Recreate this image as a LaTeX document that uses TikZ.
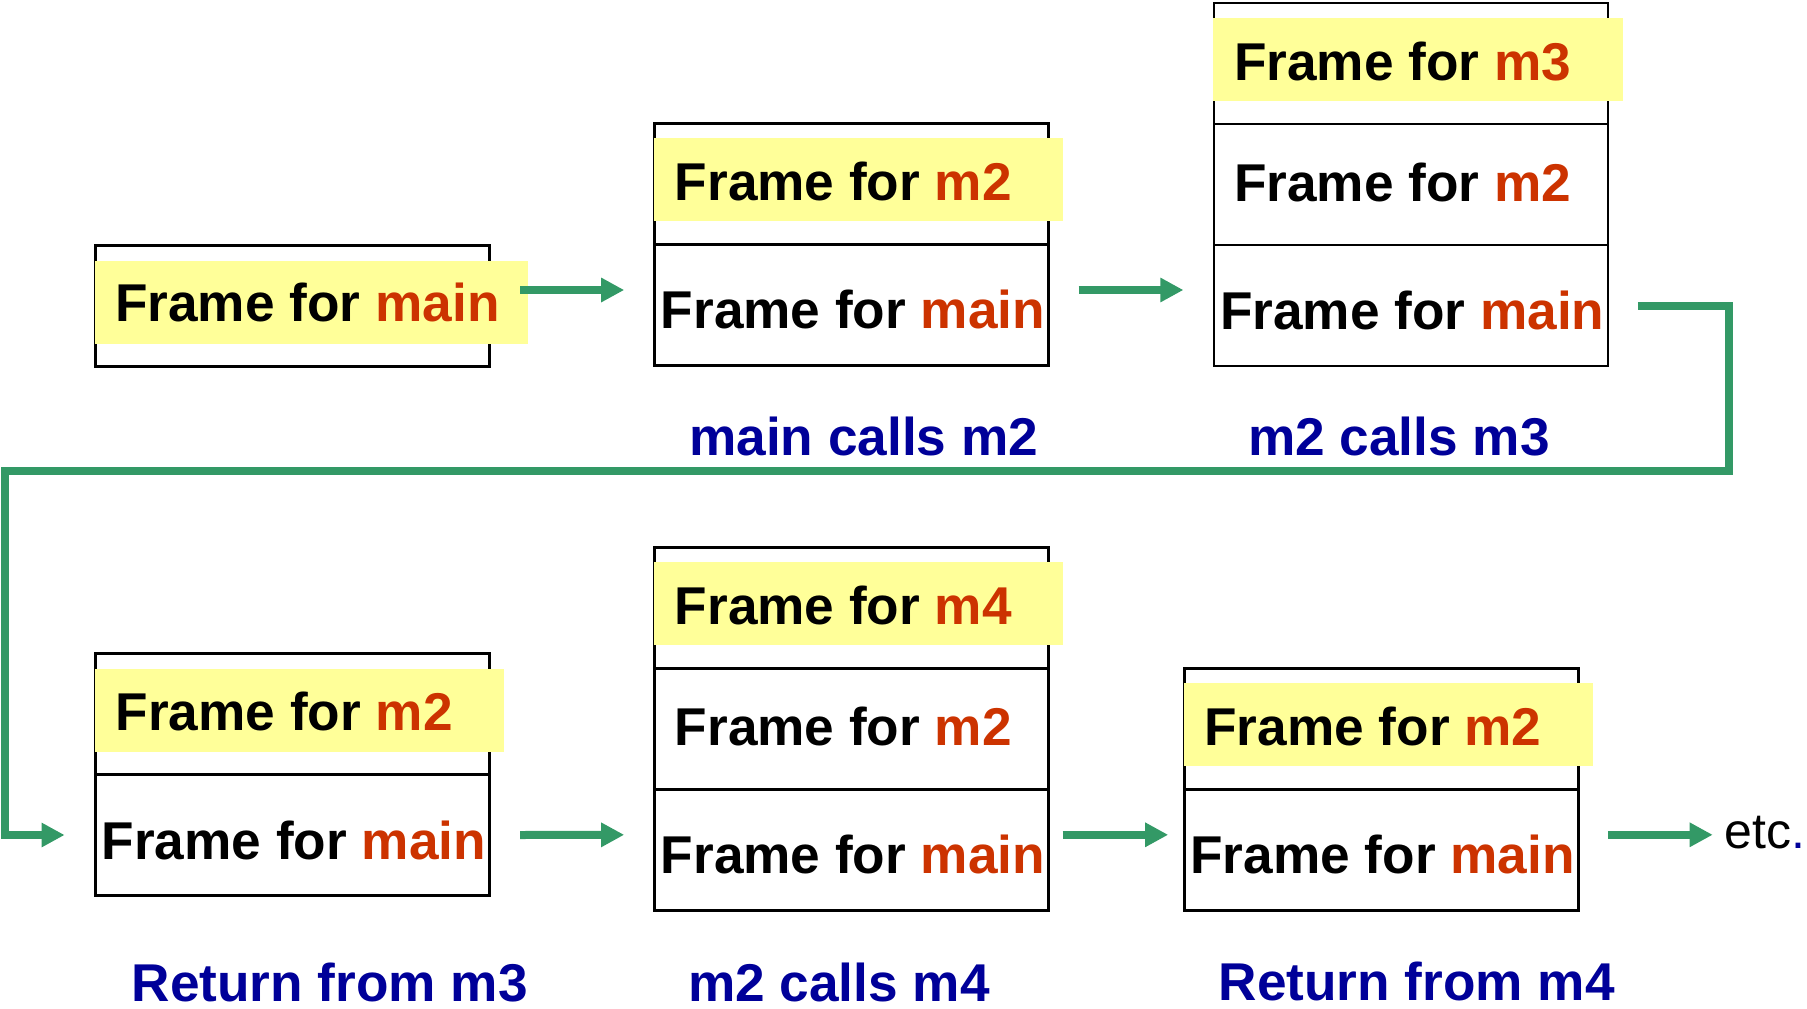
\documentclass[tikz,border=0pt]{standalone}
\usepackage{fontspec}
\setmainfont{Liberation Sans}
\usetikzlibrary{arrows.meta}
\definecolor{hilite}{HTML}{FFFF99}
\definecolor{fname}{HTML}{CC3300}
\definecolor{caption}{HTML}{000099}
\definecolor{flow}{HTML}{339966}
\begin{document}
\begin{tikzpicture}[x=1pt,y=-1pt,
  cell/.style={draw=black, line width=2.6pt, minimum width=394pt, minimum height=121pt, inner sep=0pt, outer sep=0pt, anchor=north west},
  hl/.style={fill=hilite, inner sep=0pt, outer sep=0pt, anchor=north west, minimum height=83pt},
  ftext/.style={font=\fontsize{53.2}{60}\selectfont\bfseries, inner sep=0pt, anchor=base west},
  steplabel/.style={ftext, text=caption},
  arr/.style={draw=flow, line width=8pt, -{Triangle[length=23pt,width=23pt]}},
]
\useasboundingbox (0,0) rectangle (1807,1009);

% ---- stack cells ----
\node[cell] (a1) at (95.6,245.5) {};
\node[cell] (b1) at (654.7,123.3) {};
\node[cell] (b2) at (654.7,244.3) {};
\node[cell] (c1) at (1213.9,3) {};
\node[cell] (c2) at (1213.9,124) {};
\node[cell] (c3) at (1213.9,245) {};
\node[cell] (d1) at (95.6,653.5) {};
\node[cell] (d2) at (95.6,774.5) {};
\node[cell] (e1) at (654.7,547.3) {};
\node[cell] (e2) at (654.7,668.3) {};
\node[cell] (e3) at (654.7,789.3) {};
\node[cell] (f1) at (1184.2,668.3) {};
\node[cell] (f2) at (1184.2,789.3) {};

% ---- highlight of the top frame ----
\node[hl, minimum width=433.4pt] (ha) at (95,260.5) {};
\node[hl, minimum width=408.7pt] (hb) at (654,138.3) {};
\node[hl, minimum width=409.5pt] (hc) at (1213.2,18) {};
\node[hl, minimum width=408.6pt] (hd) at (95,668.5) {};
\node[hl, minimum width=408.7pt] (he) at (654,562.3) {};
\node[hl, minimum width=409.5pt] (hf) at (1183.5,683.3) {};

% ---- frame texts ----
\node[ftext] (ta1) at (115,321.5) {Frame for \textcolor{fname}{main}};
\node[ftext] (tb1) at (674.6,200.3) {Frame for \textcolor{fname}{m2}};
\node[ftext] (tb2) at (660.6,328.8) {Frame for \textcolor{fname}{main}};
\node[ftext] (tc1) at (1233.8,80) {Frame for \textcolor{fname}{m3}};
\node[ftext] (tc2) at (1233.8,201) {Frame for \textcolor{fname}{m2}};
\node[ftext] (tc3) at (1219.8,329.5) {Frame for \textcolor{fname}{main}};
\node[ftext] (td1) at (115.5,730.5) {Frame for \textcolor{fname}{m2}};
\node[ftext] (td2) at (101.5,859) {Frame for \textcolor{fname}{main}};
\node[ftext] (te1) at (674.6,624.3) {Frame for \textcolor{fname}{m4}};
\node[ftext] (te2) at (674.6,745.3) {Frame for \textcolor{fname}{m2}};
\node[ftext] (te3) at (660.6,873.8) {Frame for \textcolor{fname}{main}};
\node[ftext] (tf1) at (1204.2,745.3) {Frame for \textcolor{fname}{m2}};
\node[ftext] (tf2) at (1190.2,873.8) {Frame for \textcolor{fname}{main}};

% ---- step captions ----
\node[steplabel] (l1) at (689,455) {main calls m2};
\node[steplabel] (l2) at (1248,455) {m2 calls m3};
\node[steplabel] (l3) at (131.5,1001) {Return from m3};
\node[steplabel] (l4) at (688,1001) {m2 calls m4};
\node[steplabel] (l5) at (1218.5,1000.5) {Return from m4};
\node[font=\fontsize{50}{56}\selectfont, inner sep=0pt, anchor=base west] (etc) at (1724.7,848) {etc\textcolor{caption}{.}};

% ---- transitions ----
\coordinate (bendR) at (1728.5,471);
\coordinate (bendL) at (5,471);
\coordinate (etcin) at (1712.7,834.8);
\draw[arr] ([xshift=30.5pt,yshift=16pt]a1.east) -- ([xshift=-30.5pt,yshift=14.8pt]b2.west);
\draw[arr] ([xshift=30pt,yshift=14.8pt]b2.east) -- ([xshift=-30.5pt,yshift=15.5pt]c3.west);
\draw[arr] ([xshift=30pt]c3.east) -| (bendR) -- (bendL) |- ([xshift=-31pt]d2.west);
\draw[arr] ([xshift=30.5pt]d2.east) -- ([xshift=-30.5pt,yshift=15pt]e3.west);
\draw[arr] ([xshift=14pt,yshift=15pt]e3.east) -- ([xshift=-16pt,yshift=15pt]f2.west);
\draw[arr] ([xshift=29.6pt,yshift=15pt]f2.east) -- (etcin);
\end{tikzpicture}
\end{document}
